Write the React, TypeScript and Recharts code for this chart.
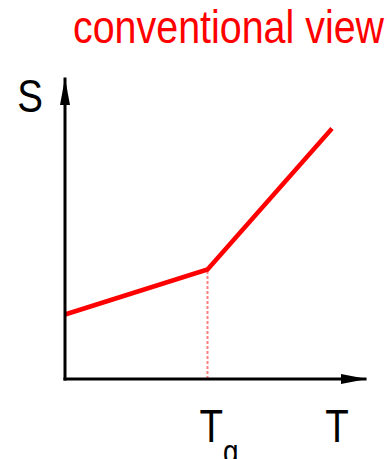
import React from 'react';
import { LineChart, Line, XAxis, YAxis, ReferenceLine, ReferenceDot } from 'recharts';

// temperature vs. entropy, two linear branches meeting at the glass transition
const temperature = [0, 4.75, 8.9];
const entropy = [2.15, 3.65, 8.35];
const glassTransition = 4.75;
const xLabelTicks = [glassTransition, 9.07];
const yLabelTicks = [9.47];
const title = 'conventional view';

const data = temperature.map((t, i) => ({ T: t, S: entropy[i] }));

const FONT = '"Liberation Sans", Arial, sans-serif';
const NARROW = 'scale(0.82,1)';

const XLabel = (props: any) => {
  const { x, y, payload } = props;
  if (payload.value === glassTransition) {
    return (
      <text transform={`translate(${x - 8},${y + 63}) ${NARROW}`} fontFamily={FONT} fontSize={47} fill="#000">
        <tspan>T</tspan>
        <tspan fontSize={34} dy={21}>g</tspan>
      </text>
    );
  }
  return (
    <text transform={`translate(${x},${y + 63}) ${NARROW}`} textAnchor="middle" fontFamily={FONT} fontSize={47} fill="#000">
      T
    </text>
  );
};

const YLabel = (props: any) => {
  const { x, y } = props;
  return (
    <text transform={`translate(${x - 22},${y + 17}) ${NARROW}`} textAnchor="end" fontFamily={FONT} fontSize={47} fill="#000">
      S
    </text>
  );
};

const ArrowRight = (props: any) => {
  const { cx, cy } = props;
  return <polygon points={`${cx + 2},${cy} ${cx - 24},${cy - 5} ${cx - 24},${cy + 5}`} fill="#000" />;
};

const ArrowUp = (props: any) => {
  const { cx, cy } = props;
  return <polygon points={`${cx},${cy - 1} ${cx - 5},${cy + 26} ${cx + 5},${cy + 26}`} fill="#000" />;
};

const App: React.FC = () => {
  return (
    <div style={{ position: 'absolute', left: 0, top: 0, width: 387, height: 459, background: '#fff' }}>
      <svg width={387} height={60} style={{ position: 'absolute', left: 0, top: 0 }}>
        <text
          x={73}
          y={43}
          fontFamily={FONT}
          fontSize={46}
          fill="#ff0000"
          textLength={311}
          lengthAdjust="spacingAndGlyphs"
        >
          {title}
        </text>
      </svg>
      <LineChart width={387} height={459} data={data} margin={{ top: 79, right: 22, bottom: 0, left: 0 }}>
        <XAxis
          type="number"
          dataKey="T"
          domain={[0, 10]}
          ticks={xLabelTicks}
          tick={<XLabel />}
          tickLine={false}
          tickSize={0}
          tickMargin={0}
          height={80}
          axisLine={{ stroke: '#000', strokeWidth: 3, strokeLinecap: 'square' }}
          interval={0}
        />
        <YAxis
          type="number"
          dataKey="S"
          domain={[0, 10]}
          ticks={yLabelTicks}
          tick={<YLabel />}
          tickLine={false}
          tickSize={0}
          tickMargin={0}
          width={65}
          axisLine={{ stroke: '#000', strokeWidth: 3, strokeLinecap: 'square' }}
          interval={0}
        />
        <ReferenceLine
          segment={[
            { x: glassTransition, y: 0 },
            { x: glassTransition, y: entropy[1] },
          ]}
          stroke="#ff8080"
          strokeWidth={2}
          strokeDasharray="3 2"
        />
        <ReferenceDot x={10} y={0} ifOverflow="visible" shape={<ArrowRight />} />
        <ReferenceDot x={0} y={10} ifOverflow="visible" shape={<ArrowUp />} />
        <Line
          type="linear"
          dataKey="S"
          stroke="#ff0000"
          strokeWidth={4.5}
          dot={false}
          activeDot={false}
          isAnimationActive={false}
        />
      </LineChart>
    </div>
  );
};

export default App;
